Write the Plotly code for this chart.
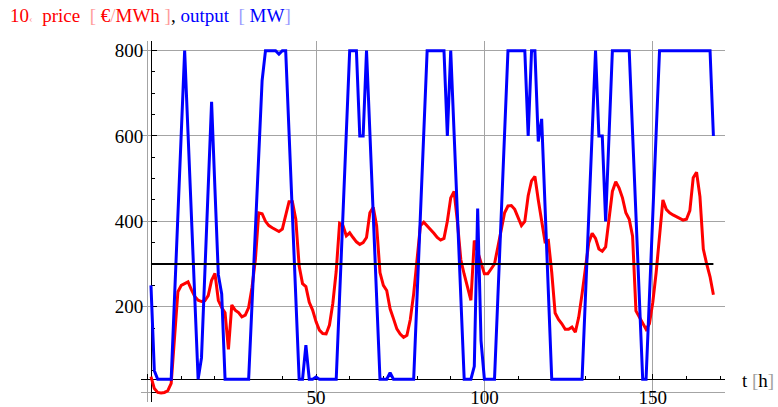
import plotly.graph_objects as go

# ---------------- data ----------------
hours = list(range(1, 169))

# 10 x price [EUR/MWh]
price10 = [
    36, 8, -1, -2, -1, 3, 20, 128, 235, 250,
    255, 258, 240, 224, 215, 212, 214, 226, 262, 278,
    215, 198, 186, 100, 204, 192, 186, 176, 180, 198,
    245, 310, 420, 418, 400, 390, 385, 381, 376, 382,
    412, 446, 446, 405, 295, 254, 247, 210, 192, 165,
    145, 137, 136, 157, 208, 283, 395, 390, 366, 373,
    362, 352, 346, 350, 362, 420, 433, 390, 280, 250,
    238, 195, 172, 148, 136, 128, 133, 170, 230, 310,
    390, 398, 390, 380, 372, 362, 356, 360, 400, 455,
    470, 398, 310, 276, 245, 215, 355, 330, 305, 277,
    277, 288, 300, 340, 385, 420, 436, 437, 428, 410,
    390, 400, 460, 495, 505, 450, 405, 352, 355, 280,
    185, 170, 160, 147, 147, 152, 140, 175, 230, 290,
    350, 372, 360, 335, 330, 340, 410, 470, 493, 478,
    455, 420, 405, 365, 190, 175, 160, 147, 160, 210,
    280, 370, 450, 428, 420, 415, 411, 407, 403, 405,
    425, 502, 515, 458, 335, 300, 270, 228,
]

# output [MW]
output = [
    250, 50, 30, 30, 30, 30, 30, 222, 415, 607,
    800, 607, 415, 222, 30, 80, 280, 480, 680, 475,
    275, 230, 30, 30, 30, 30, 30, 30, 30, 30,
    205, 380, 555, 730, 800, 800, 800, 800, 792, 800,
    800, 610, 420, 225, 30, 30, 110, 30, 30, 35,
    30, 30, 30, 30, 30, 30, 222, 415, 607, 800,
    800, 800, 600, 600, 800, 607, 415, 222, 30, 30,
    30, 45, 30, 30, 30, 30, 30, 30, 30, 222,
    415, 607, 800, 800, 800, 800, 800, 800, 600, 800,
    607, 415, 222, 30, 30, 30, 60, 430, 120, 30,
    30, 30, 30, 222, 415, 607, 800, 800, 800, 800,
    800, 800, 600, 800, 800, 587, 640, 430, 230, 30,
    30, 30, 30, 30, 30, 30, 30, 30, 30, 222,
    415, 607, 800, 600, 600, 400, 600, 800, 800, 800,
    800, 800, 800, 607, 415, 222, 30, 30, 222, 415,
    607, 800, 800, 800, 800, 800, 800, 800, 800, 800,
    800, 800, 800, 800, 800, 800, 800, 600,
]

reference_level = 300          # horizontal reference line
x_tick_values = [0, 50, 100, 150]
x_tick_labels = ["", "50", "100", "150"]
y_tick_values = [0, 200, 400, 600, 800]
y_tick_labels = ["", "200", "400", "600", "800"]

# ---------------- layout geometry ----------------
W, H = 778, 407
L, R, T, B = 141, 53, 41, 5
x_range = [-1.96, 171.44]
y_range = [-23.4, 822.6]
axis_origin_x = hours[0]
axis_origin_y = min(output)

pw, ph = W - L - R, H - T - B
xpos = (axis_origin_y - y_range[0]) / (y_range[1] - y_range[0])
ypos = (axis_origin_x - x_range[0]) / (x_range[1] - x_range[0])

def px_to_paper_x(px):
    return (px - L) / pw

def px_to_paper_y(py):
    return (H - B - py) / ph

FONT = "Liberation Serif, Times New Roman, serif"
GRID = "#a4a4a4"

fig = go.Figure()
fig.add_trace(go.Scatter(x=hours, y=price10, mode="lines",
                         line=dict(color="#ff0000", width=3), name="price"))
fig.add_trace(go.Scatter(x=hours, y=output, mode="lines",
                         line=dict(color="#0000ff", width=3), name="output"))
fig.add_trace(go.Scatter(x=[hours[0], hours[-1]], y=[reference_level, reference_level],
                         mode="lines", line=dict(color="#000000", width=2), name="ref"))

fig.update_layout(
    width=W, height=H,
    margin=dict(l=L, r=R, t=T, b=B, pad=0, autoexpand=False),
    paper_bgcolor="white", plot_bgcolor="white",
    showlegend=False,
    font=dict(family=FONT, size=19, color="black"),
    xaxis=dict(
        range=x_range, anchor="free", position=xpos, side="bottom",
        tickmode="array", tickvals=x_tick_values, ticktext=x_tick_labels,
        ticks="inside", ticklen=5, tickwidth=1, tickcolor="black",
        showgrid=True, gridcolor=GRID, gridwidth=1,
        zeroline=False, showline=True, linecolor="black", linewidth=1,
        layer="below traces", ticklabelstandoff=1, automargin=False,
        tickfont=dict(family=FONT, size=19, color="black"),
        minor=dict(tickmode="linear", tick0=0, dtick=10, ticks="inside",
                   ticklen=3, tickcolor="black", showgrid=False),
    ),
    yaxis=dict(
        range=y_range, anchor="free", position=ypos, side="left",
        tickmode="array", tickvals=y_tick_values, ticktext=y_tick_labels,
        ticks="inside", ticklen=5, tickwidth=1, tickcolor="black",
        showgrid=True, gridcolor=GRID, gridwidth=1,
        zeroline=False, showline=True, linecolor="black", linewidth=1,
        layer="below traces", ticklabelstandoff=4, automargin=False,
        tickfont=dict(family=FONT, size=19, color="black"),
        minor=dict(tickmode="linear", tick0=0, dtick=50, ticks="inside",
                   ticklen=3, tickcolor="black", showgrid=False),
    ),
)

nb = "\u00a0"
red, lred = "#ff0000", "#ff9c9c"
blue, lblue = "#0000ff", "#9c9cff"
title = (
    f"<span style='color:{red}'>10</span>"
    f"<span style='color:{lred};font-size:11px'>‹</span>{nb}{nb}"
    f"<span style='color:{red}'>price</span>{nb}{nb}"
    f"<span style='color:{lred}'>[</span>{nb}"
    f"<span style='color:{red}'>€</span><span style='color:{lred}'>/</span>"
    f"<span style='color:{red}'>MWh</span>{nb}"
    f"<span style='color:{lred}'>]</span>"
    f"<span style='color:black'>,</span>{nb}"
    f"<span style='color:{blue}'>output</span>{nb}{nb}"
    f"<span style='color:{lblue}'>[</span>{nb}"
    f"<span style='color:{blue}'>MW</span>"
    f"<span style='color:{lblue}'>]</span>"
)
fig.add_annotation(text=title, xref="paper", yref="paper",
                   x=px_to_paper_x(8), y=px_to_paper_y(15),
                   xanchor="left", yanchor="middle", showarrow=False,
                   font=dict(family=FONT, size=19))
fig.add_annotation(text=f"t{nb}<span style='color:#a0a0a0'>[</span>h<span style='color:#a0a0a0'>]</span>",
                   xref="paper", yref="paper",
                   x=px_to_paper_x(740), y=px_to_paper_y(380),
                   xanchor="left", yanchor="middle", showarrow=False,
                   font=dict(family=FONT, size=19, color="black"))

fig.write_html("out.html",
               config={"displayModeBar": False, "staticPlot": True},
               post_script="document.body.style.margin='0';document.body.style.overflow='hidden';")
